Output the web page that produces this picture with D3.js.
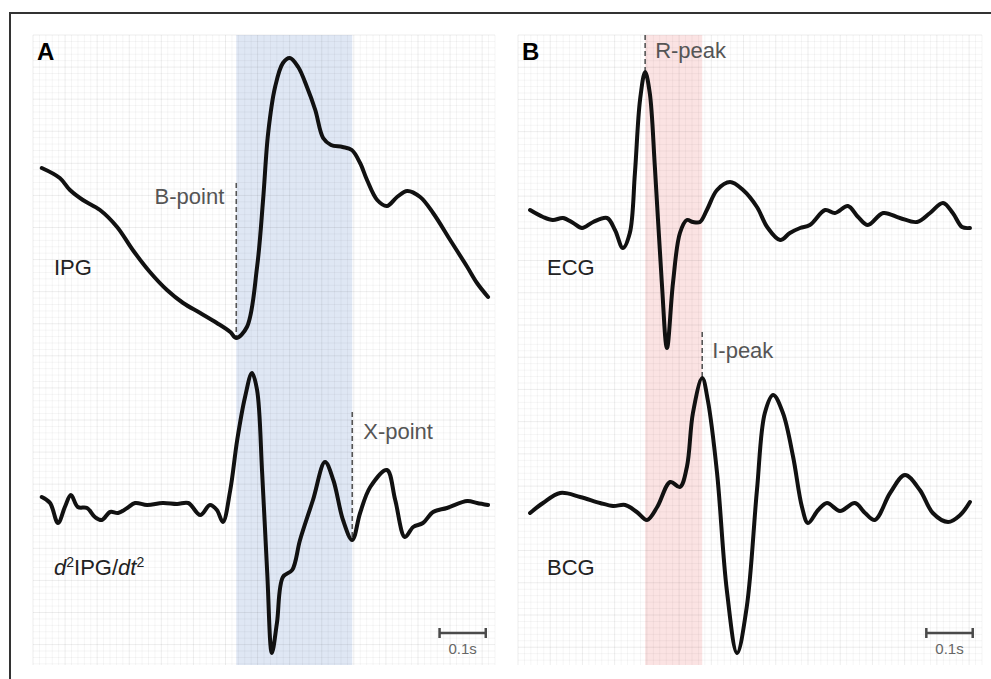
<!DOCTYPE html>
<meta charset="utf-8">
<style>
 body { margin: 0; background: #fff; }
 svg { display: block; font-family: "Liberation Sans", Arial, sans-serif; }
 .trace { fill: none; stroke: #111; stroke-width: 4px; stroke-linejoin: round; stroke-linecap: round; }
 .marker { stroke: #555; stroke-width: 1.6px; stroke-dasharray: 5,3; }
 .minor { stroke: #000; stroke-opacity: 0.04; stroke-width: 1px; }
 .major { stroke: #000; stroke-opacity: 0.07; stroke-width: 1px; }
 .lbl { font-size: 22px; fill: #222; }
 .ann { font-size: 22px; fill: #555; }
 .scalebar { stroke: #4a4a4a; stroke-width: 2.5px; }
 .sblabel { font-size: 15px; fill: #666; }
 .panel-letter { font-size: 24px; font-weight: bold; fill: #000; }
</style>
<svg width="991" height="679"></svg>
<script src="https://cdn.jsdelivr.net/npm/d3@7"></script>
<script>

 // time in ms, amplitude in arbitrary units (relative to each trace baseline)
 var ipgT = [19, 58, 80, 108, 145, 182, 216, 253, 290, 325, 362, 398, 427, 440, 463, 485, 498, 509, 524, 541, 556, 574, 593, 611, 628, 645, 670, 690, 708, 723, 745, 766, 788, 810, 838, 866, 903, 940, 961, 985];
 var ipgV = [7.2, 6.2, 5.0, 4.0, 3.0, 1.3, -1.0, -3.2, -5.0, -6.3, -7.3, -8.3, -9.2, -9.8, -8.7, -2.7, 4.0, 10.7, 15.3, 17.7, 18.2, 17.3, 15.3, 13.0, 10.2, 9.5, 9.3, 9.0, 7.7, 6.0, 4.0, 3.4, 4.3, 4.9, 4.3, 2.7, 0, -2.7, -4.3, -5.7];

 var d2ipgT = [19, 37, 54, 69, 82, 97, 117, 134, 149, 167, 184, 204, 221, 247, 281, 312, 336, 362, 383, 398, 411, 427, 442, 459, 474, 485, 496, 507, 517, 528, 541, 561, 578, 606, 632, 650, 671, 691, 708, 730, 766, 784, 805, 823, 844, 866, 896, 940, 961, 985];
 var d2ipgV = [0.8, 0.2, -1.8, -0.2, 1.0, -0.2, -0.3, -1.2, -1.5, -0.7, -0.8, -0.3, 0.2, 0, 0.2, 0.1, 0.2, -1.0, 0, -0.5, -1.7, 1.5, 6.5, 10.8, 13.2, 11.5, 3.2, -6.8, -14.8, -11.8, -7.2, -6.5, -3.5, 0.5, 4.3, 2.5, -1.5, -3.5, -0.8, 1.8, 3.5, 0.5, -3.2, -2.2, -1.8, -0.7, -0.3, 0.4, 0.2, 0];

 var ecgT = [26, 54, 75, 97, 119, 138, 162, 192, 209, 226, 241, 252, 263, 274, 284, 295, 310, 321, 334, 349, 364, 377, 392, 407, 429, 457, 485, 515, 537, 565, 586, 608, 629, 662, 683, 711, 733, 754, 787, 823, 860, 888, 916, 937, 957, 974];
 var ecgV = [1.0, 0.3, 0, 0.2, -0.3, -0.8, -0.2, 0.2, -1.0, -2.8, -1.3, 4.7, 12.0, 14.8, 12.7, 5.3, -6.3, -12.8, -6.3, -1.3, 0, -0.2, -0.2, 1.0, 3.0, 3.8, 3.0, 1.3, -0.7, -2.0, -1.3, -0.8, -0.5, 1.0, 0.7, 1.4, 0.3, -0.5, 0.7, 0.2, -0.2, 0.7, 1.7, 0.7, -0.7, -0.8];

 var bcgT = [26, 54, 91, 134, 177, 205, 231, 256, 278, 300, 328, 349, 364, 377, 397, 409, 429, 450, 472, 493, 515, 532, 550, 571, 593, 612, 625, 647, 666, 694, 726, 748, 769, 802, 834, 866, 894, 927, 953, 974];
 var bcgV = [-0.8, 0.2, 1.2, 0.8, 0.2, -0.1, 0, -0.7, -1.5, -0.2, 2.3, 1.8, 3.8, 9.2, 12.7, 10.5, 3.2, -8.5, -14.8, -10.2, 1.5, 9.2, 11.0, 9.2, 4.8, -0.2, -1.8, -0.5, 0.2, -0.6, 0.2, -0.8, -1.5, 1.2, 3.0, 1.5, -0.8, -1.7, -1.0, 0.3];

 // fiducial points (ms) and the highlighted intervals
 var bPoint = 440, xPoint = 691, rPeak = 274, iPeak = 397;

 var svg = d3.select("svg");

 var panels = [
   { letter: "A", x0: 33, x1: 495, y0: 35, y1: 665, band: [bPoint, xPoint], bandColor: "#dfe7f4",
     traces: [
       { name: "IPG", t: ipgT, v: ipgV, base: 240, label: [54, 275] },
       { name: "d2", t: d2ipgT, v: d2ipgV, base: 505, label: [54, 575] }
     ] },
   { letter: "B", x0: 518, x1: 982, y0: 35, y1: 665, band: [rPeak, iPeak], bandColor: "#fbe3e3",
     traces: [
       { name: "ECG", t: ecgT, v: ecgV, base: 220, label: [547, 275] },
       { name: "BCG", t: bcgT, v: bcgV, base: 505, label: [547, 575] }
     ] }
 ];

 // outer frame (cropped at right and bottom)
 svg.append("path")
    .attr("d", "M10,679 L10,13 L991,13")
    .attr("fill", "none")
    .attr("stroke", "#333")
    .attr("stroke-width", 2);

 panels.forEach(function(p) {
   p.x = d3.scaleLinear().domain([0, 1000]).range([p.x0, p.x1]);
   p.traces.forEach(function(tr) {
     tr.y = d3.scaleLinear().domain([-20, 20]).range([tr.base + 200, tr.base - 200]);
   });

   var g = svg.append("g");

   g.append("rect")
    .attr("x", p.x0).attr("y", p.y0)
    .attr("width", p.x1 - p.x0).attr("height", p.y1 - p.y0)
    .attr("fill", "#fff");

   g.append("rect")
    .attr("x", p.x(p.band[0])).attr("y", p.y0)
    .attr("width", p.x(p.band[1]) - p.x(p.band[0])).attr("height", p.y1 - p.y0)
    .attr("fill", p.bandColor);

   // ECG-paper style grid
   var step = (p.x1 - p.x0) / 72;
   var grid = g.append("g");
   d3.range(0, 73).forEach(function(i) {
     var gx = p.x0 + i * step;
     grid.append("line").attr("class", i % 5 === 0 ? "major" : "minor")
         .attr("x1", gx).attr("x2", gx).attr("y1", p.y0).attr("y2", p.y1);
   });
   d3.range(0, Math.floor((p.y1 - p.y0) / step) + 1).forEach(function(i) {
     var gy = p.y0 + i * step;
     grid.append("line").attr("class", i % 5 === 0 ? "major" : "minor")
         .attr("x1", p.x0).attr("x2", p.x1).attr("y1", gy).attr("y2", gy);
   });

   g.append("text").attr("class", "panel-letter")
    .attr("x", p.x0 + 4).attr("y", p.y0 + 25).text(p.letter);

   // scale bar 0.1 s
   var sbY = 633, sbA = p.x(880), sbB = p.x(980);
   g.append("line").attr("class", "scalebar").attr("x1", sbA).attr("x2", sbB).attr("y1", sbY).attr("y2", sbY);
   g.append("line").attr("class", "scalebar").attr("x1", sbA).attr("x2", sbA).attr("y1", sbY - 5).attr("y2", sbY + 5);
   g.append("line").attr("class", "scalebar").attr("x1", sbB).attr("x2", sbB).attr("y1", sbY - 5).attr("y2", sbY + 5);
   g.append("text").attr("class", "sblabel").attr("text-anchor", "middle")
    .attr("x", (sbA + sbB) / 2).attr("y", 654).text("0.1s");
 });

 // fiducial markers
 var pA = panels[0], pB = panels[1];
 var markers = [
   { x: pA.x(bPoint), y1: pA.traces[0].y(5.7), y2: pA.traces[0].y(-9.8), text: "B-point", tx: pA.x(bPoint) - 12, ty: 204, anchor: "end" },
   { x: pA.x(xPoint), y1: pA.traces[1].y(9.3), y2: pA.traces[1].y(-3.5), text: "X-point", tx: pA.x(xPoint) + 11, ty: 439, anchor: "start" },
   { x: pB.x(rPeak), y1: pB.y0, y2: pB.traces[0].y(14.8), text: "R-peak", tx: pB.x(rPeak) + 10, ty: 58, anchor: "start" },
   { x: pB.x(iPeak), y1: pB.traces[1].y(17.3), y2: pB.traces[1].y(12.7), text: "I-peak", tx: pB.x(iPeak) + 10, ty: 358, anchor: "start" }
 ];
 markers.forEach(function(m) {
   svg.append("line").attr("class", "marker")
      .attr("x1", m.x).attr("x2", m.x).attr("y1", m.y1).attr("y2", m.y2);
   svg.append("text").attr("class", "ann").attr("text-anchor", m.anchor)
      .attr("x", m.tx).attr("y", m.ty).text(m.text);
 });

 // traces and labels
 panels.forEach(function(p) {
   p.traces.forEach(function(tr) {
     var pts = tr.t.map(function(t, i) { return [t, tr.v[i]]; });
     var line = d3.line()
                  .x(function(d) { return p.x(d[0]); })
                  .y(function(d) { return tr.y(d[1]); })
                  .curve(d3.curveCatmullRom.alpha(0.5));
     svg.append("path").attr("class", "trace").attr("d", line(pts));

     var lab = svg.append("text").attr("class", "lbl")
                  .attr("x", tr.label[0]).attr("y", tr.label[1]);
     if (tr.name === "d2") {
       lab.append("tspan").attr("font-style", "italic").text("d");
       lab.append("tspan").attr("font-size", 14).attr("dy", -8).text("2");
       lab.append("tspan").attr("dy", 8).text("IPG/");
       lab.append("tspan").attr("font-style", "italic").text("dt");
       lab.append("tspan").attr("font-size", 14).attr("dy", -8).text("2");
     } else {
       lab.text(tr.name);
     }
   });
 });
</script>
